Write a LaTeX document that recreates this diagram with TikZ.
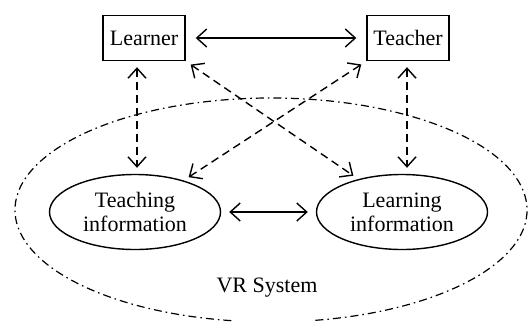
\documentclass[tikz,border=0pt]{standalone}
\usepackage{fontspec}
\setmainfont{Liberation Serif}
\usetikzlibrary{arrows.meta,shapes.geometric}

\begin{document}
\begin{tikzpicture}[x=0.5pt, y=-0.5pt, >={Straight Barb[length=5pt,width=9pt]},
  every node/.style = {font=\fontsize{11}{12}\selectfont},
  actor/.style  = {rectangle, draw, line width=0.7pt, inner sep=2pt,
                   minimum height=22.5pt, minimum width=41pt},
  info/.style   = {ellipse, draw, line width=0.7pt, inner sep=0pt,
                   minimum height=37.5pt, minimum width=85.5pt, align=center},
  link/.style   = {<->, line width=0.7pt},
  dlink/.style  = {<->, line width=0.7pt, dash pattern=on 4pt off 2.5pt,
                   shorten <=3pt, shorten >=3pt},
]
  \useasboundingbox (0,0) rectangle (528,327);

  % outer VR system boundary, open at the bottom
  \coordinate (sys) at (271,210);
  \draw[line width=0.6pt, dash pattern=on 4pt off 2pt on 0.8pt off 2pt]
    (sys) ++(-80:128pt and 56pt)
    arc [start angle=-80, end angle=262, x radius=128pt, y radius=56pt];

  \node[actor] (learner) at (144,38) {Learner};
  \node[actor] (teacher) at (408,38) {Teacher};
  \node[info] (teaching) at (135,212) {Teaching\\information};
  \node[info] (learning) at (402,212) {Learning\\information};
  \node (vr) at (267,288) {VR System};

  \draw[link, shorten <=5pt, shorten >=5pt] (learner) -- (teacher);
  \draw[link, shorten <=4pt, shorten >=4pt] (teaching) -- (learning);

  % interaction with the system
  \draw[dlink] ([xshift=1pt]teaching.north |- learner.south) -- ([xshift=1pt]teaching.north);
  \draw[dlink] ([xshift=-0.5pt]teacher.south) -- ([xshift=-0.5pt]teacher.south |- learning.north);
  \draw[dlink] (learner.south east) -- (learning.143);
  \draw[dlink] (teacher.south west) -- (teaching.33);
\end{tikzpicture}
\end{document}
